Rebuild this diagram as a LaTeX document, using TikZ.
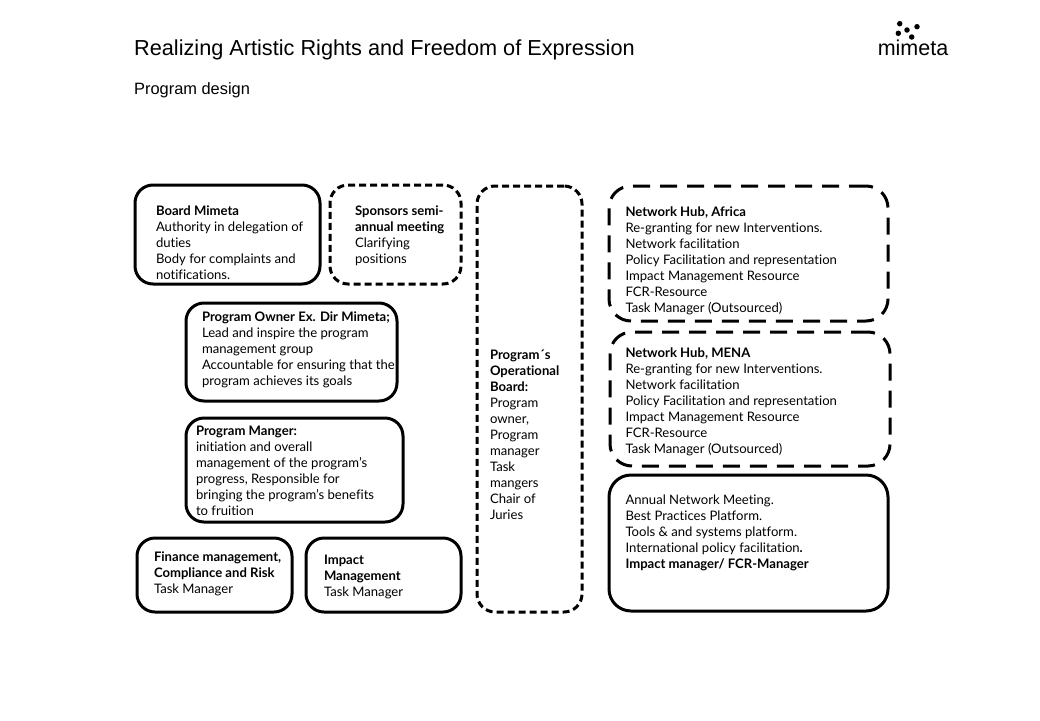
\documentclass[tikz,border=0pt]{standalone}
\usepackage{fontspec}
\setmainfont{Lato}[Ligatures=CommonOff]
\newfontfamily\titlefont{Liberation Sans}
\usetikzlibrary{positioning}

\begin{document}
\begin{tikzpicture}[
	x=1pt, y=-1pt,
	solidbox/.style={rectangle, draw, line width=3pt, rounded corners=18pt, inner sep=0pt, outer sep=0pt, anchor=north west},
	shortdash/.style={solidbox, dash pattern=on 7pt off 4pt},
	longdash/.style={solidbox, rounded corners=22pt, dash pattern=on 17pt off 10pt},
	boxtext/.style={inner sep=0pt, outer sep=0pt, align=left, anchor=north west, font=\fontsize{13.1}{16}\selectfont},
	logodot/.style={circle, fill=black, inner sep=0pt, minimum size=5.5pt}
	]
	\useasboundingbox (0,0) rectangle (1040,720);
	\node[anchor=west, inner sep=0pt, font=\titlefont\fontsize{21.7}{26}\selectfont] (title) at (134,50) {Realizing Artistic Rights and Freedom of Expression};
	\node[anchor=west, inner sep=0pt, font=\titlefont\fontsize{16.4}{20}\selectfont] (subtitle) at (134,90) {Program design};
	
	% logo
	\node[logodot] (dot-a) at (899.7,23.7) {};
	\node[logodot] (dot-b) at (917,26.7) {};
	\node[logodot] (dot-c) at (907,30) {};
	\node[logodot] (dot-d) at (898.3,33.3) {};
	\node[logodot] (dot-e) at (911.7,37) {};
	\node[inner sep=0pt, font=\titlefont\fontsize{21.5}{24}\selectfont] (logo) at (913,48) {mimeta};
	
	% left column
	\node[solidbox, minimum width=185pt, minimum height=99pt] (board) at (135,185) {};
	\node[shortdash, minimum width=131pt, minimum height=99pt, right=10pt of board.north east, anchor=north west] (sponsors) {};
	\node[solidbox, minimum width=211pt, minimum height=98pt] (owner) at (186,303) {};
	\node[solidbox, minimum width=217pt, minimum height=104pt, below=17pt of owner.south west, anchor=north west] (manager) {};
	\node[solidbox, minimum width=155pt, minimum height=74pt] (finance) at (137,538) {};
	\node[solidbox, minimum width=155pt, minimum height=74pt, right=14pt of finance.north east, anchor=north west] (impact) {};
	
	\node[boxtext, below right=20.5pt and 21pt of board.north west, anchor=north west] (board-text) {\textbf{Board Mimeta}\\Authority in delegation of\\duties\\Body for complaints and\\notifications.};
	\node[boxtext, below right=20.5pt and 25pt of sponsors.north west, anchor=north west] (sponsors-text) {\textbf{Sponsors semi-}\\\textbf{annual meeting}\\Clarifying\\positions};
	\node[boxtext, below right=8.5pt and 16pt of owner.north west, anchor=north west] (owner-text) {\textbf{Program Owner Ex. Dir Mimeta;}\\Lead and inspire the program\\management group\\Accountable for ensuring that the\\program achieves its goals};
	\node[boxtext, below right=8.5pt and 10pt of manager.north west, anchor=north west] (manager-text) {\textbf{Program Manger:}\\initiation and overall\\management of the program's\\progress, Responsible for\\bringing the program's benefits\\to fruition};
	\node[boxtext, below right=13.5pt and 17pt of finance.north west, anchor=north west] (finance-text) {\textbf{Finance management,}\\\textbf{Compliance and Risk}\\Task Manager};
	\node[boxtext, below right=17.5pt and 18pt of impact.north west, anchor=north west] (impact-text) {\textbf{Impact}\\\textbf{Management}\\Task Manager};
	
	% operational board
	\node[shortdash, minimum width=105pt, minimum height=426pt] (opboard) at (477,186) {};
	\node[boxtext, below right=163.5pt and 13pt of opboard.north west, anchor=north west] (opboard-text) {\textbf{Program´s}\\\textbf{Operational}\\\textbf{Board:}\\Program\\owner,\\Program\\manager\\Task\\mangers\\Chair of\\Juries};
	
	% right column
	\node[longdash, minimum width=279pt, minimum height=135pt] (africa) at (609,186) {};
	\node[longdash, minimum width=280pt, minimum height=134pt] (mena) at (610,332) {};
	\node[solidbox, rounded corners=22pt, minimum width=279pt, minimum height=136pt] (annual) at (609,475) {};
	
	\node[boxtext, below right=20.5pt and 16.5pt of africa.north west, anchor=north west] (africa-text) {\textbf{Network Hub, Africa}\\Re-granting for new Interventions.\\Network facilitation\\Policy Facilitation and representation\\Impact Management Resource\\FCR-Resource\\Task Manager (Outsourced)};
	\node[boxtext, below right=15.5pt and 15.5pt of mena.north west, anchor=north west] (mena-text) {\textbf{Network Hub, MENA}\\Re-granting for new Interventions.\\Network facilitation\\Policy Facilitation and representation\\Impact Management Resource\\FCR-Resource\\Task Manager (Outsourced)};
	\node[boxtext, below right=19.5pt and 16.5pt of annual.north west, anchor=north west] (annual-text) {Annual Network Meeting.\\Best Practices Platform.\\Tools \& and systems platform.\\International policy facilitation\textbf{.}\\\textbf{Impact manager/ FCR-Manager}};
\end{tikzpicture}
\end{document}
